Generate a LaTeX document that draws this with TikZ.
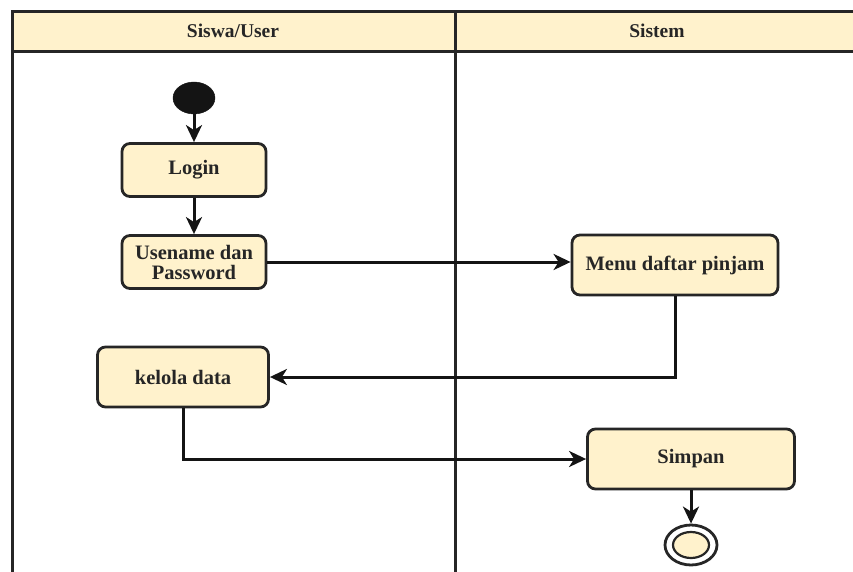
\documentclass[tikz,border=0pt]{standalone}
\usepackage{fontspec}
\setmainfont{Liberation Serif}
\usetikzlibrary{arrows.meta,shapes.geometric}
\definecolor{cream}{HTML}{FFF2CC}
\definecolor{inkc}{HTML}{262626}
\begin{document}
\begin{tikzpicture}[x=1pt,y=-1pt,
  lane/.style={draw=inkc, line width=3pt},
  hdr/.style={font=\bfseries\fontsize{19.5}{20}\selectfont, text=inkc},
  act/.style={draw=inkc, fill=cream, line width=2.8pt, rounded corners=8pt,
    font=\bfseries\fontsize{20.5}{20}\selectfont, text=inkc, align=center, inner sep=0pt},
  flow/.style={draw=black!92, line width=3pt,
    -{Stealth[length=17pt,width=16pt,inset=5pt]}},
  startnode/.style={ellipse, fill=black!92, draw=black!92, minimum width=42pt, minimum height=32pt, inner sep=0pt},
  endouter/.style={ellipse, fill=white, draw=inkc, line width=2.8pt, minimum width=52pt, minimum height=40pt, inner sep=0pt},
  endinner/.style={ellipse, fill=cream, draw=inkc, line width=2.2pt, minimum width=36pt, minimum height=26pt, inner sep=0pt}]
\useasboundingbox (0,0) rectangle (853,572);

% swimlane frame
\fill[cream] (12,12) rectangle (853,52);
\draw[lane] (853,12) -- (12,12) -- (12,572);
\draw[lane] (12,52) -- (853,52);
\draw[lane] (455,12) -- (455,572);
\node[hdr] (laneA) at (233,31) {Siswa/User};
\node[hdr] (laneB) at (657,31) {Sistem};

% activities
\node[startnode] (start) at (194,98) {};
\node[act, minimum width=144pt, minimum height=53pt] (login) at (194,170) {Login};
\node[act, minimum width=144pt, minimum height=53pt] (user) at (194,262) {Usename dan\\Password};
\node[act, minimum width=206pt, minimum height=60pt] (menu) at (675,265) {Menu daftar pinjam};
\node[act, minimum width=171pt, minimum height=60pt] (kelola) at (183,377) {kelola data};
\node[act, minimum width=207pt, minimum height=60pt] (simpan) at (691,459) {Simpan};
\node[endouter] (final) at (691,545) {};
\node[endinner] (finalin) at (final.center) {};

% flows
\draw[flow] (start) -- (login);
\draw[flow] (login) -- (user);
\draw[flow] (user.east) -- (user.east -| menu.west);
\draw[flow] (menu.south) |- (kelola.east);
\draw[flow] (kelola.south) |- (simpan.west);
\draw[flow] (simpan) -- (final);
\end{tikzpicture}
\end{document}
